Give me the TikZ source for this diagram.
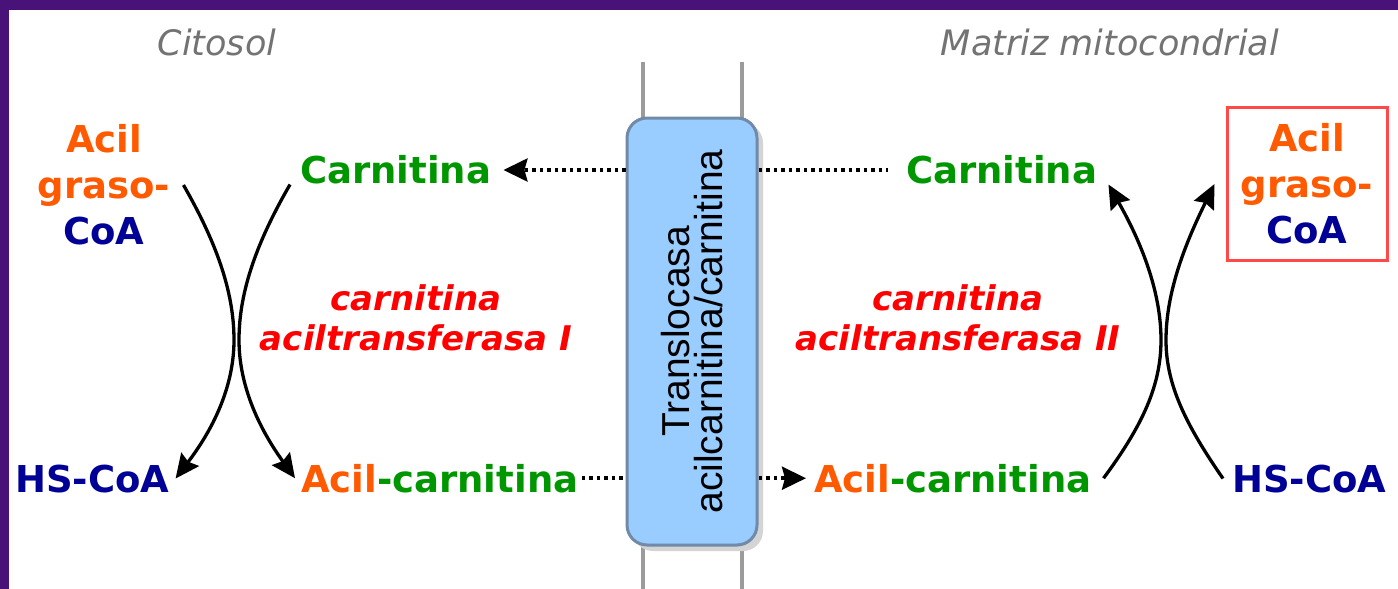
\documentclass[tikz,border=0pt]{standalone}
\usepackage{fontspec}
\usetikzlibrary{arrows.meta}
\newfontfamily\dv{DejaVu Sans}[BoldFont={DejaVu Sans Bold},ItalicFont={DejaVu Sans Oblique},BoldItalicFont={DejaVu Sans Bold Oblique}]
\newfontfamily\lib{Liberation Sans}
\definecolor{acyl}{RGB}{255,90,0}
\definecolor{carn}{RGB}{0,150,0}
\definecolor{coa}{RGB}{0,0,150}
\definecolor{enz}{RGB}{255,0,0}
\definecolor{lbl}{RGB}{115,115,115}
\definecolor{boxfill}{RGB}{153,204,255}
\definecolor{boxline}{RGB}{112,138,168}
\definecolor{shadowc}{RGB}{212,212,212}
\definecolor{memb}{RGB}{155,155,155}
\definecolor{framec}{RGB}{72,18,120}
\definecolor{redbox}{RGB}{255,72,72}
\begin{document}
\begin{tikzpicture}[x=1pt,y=-1pt,
  txt/.style={inner sep=0pt, font=\dv\bfseries\fontsize{37}{46}\selectfont},
  enzyme/.style={inner sep=0pt, text=enz, align=center, font=\dv\bfseries\itshape\fontsize{34}{40}\selectfont},
  regionlbl/.style={inner sep=0pt, text=lbl, font=\dv\itshape\fontsize{35}{40}\selectfont},
  reactarrow/.style={line width=3.3pt, -{Stealth[length=24pt,width=22pt,inset=3pt]}},
  dotline/.style={line width=3.5pt, dash pattern=on 3.5pt off 4pt, black},
  dotarrow/.style={dotline, -{Stealth[length=24pt,width=23pt,inset=3pt]}},
]
\fill[white] (0,0) rectangle (1398,589);
\useasboundingbox (0,0) rectangle (1398,589);
\fill[framec] (0,0) rectangle (9,589);
\fill[framec] (0,0) rectangle (1398,10);

% region labels
\node[regionlbl, anchor=base] (cyt) at (217,55) {Citosol};
\node[regionlbl, anchor=base] (mat) at (1110,55) {Matriz mitocondrial};

% membranes and translocase
\draw[memb, line width=3.5pt] (643,62) -- (643,589);
\draw[memb, line width=3.5pt] (742,62) -- (742,589);
\fill[shadowc, rounded corners=20pt] (633,123) rectangle (763,551);
\node[draw=boxline, fill=boxfill, line width=3pt, rounded corners=20pt,
      minimum width=130pt, minimum height=427pt, inner sep=0pt] (box) at (692,331.5) {};
\node[inner sep=0pt, rotate=90, align=center, font=\lib\fontsize{39}{33}\selectfont]
      (boxlabel) at (box.center) {Translocasa\\acilcarnitina/carnitina};

% left (cytosol) species
\node[txt, align=center] (acoaL) at (104,185)
  {\textcolor{acyl}{Acil}\\\textcolor{acyl}{graso-}\\\textcolor{coa}{CoA}};
\node[txt, anchor=west, text=carn] (carnL) at (300,170) {Carnitina};
\node[txt, anchor=base west, text=coa] (hsL) at (15,492) {HS-CoA};
\node[txt, anchor=base west] (acL) at (301,492) {\textcolor{acyl}{Acil}\textcolor{carn}{-carnitina}};
\node[enzyme, anchor=north] (cat1) at (416,284) {carnitina\\aciltransferasa I};

% right (matrix) species
\node[txt, align=center, draw=redbox, line width=3pt, minimum width=160pt, minimum height=153pt]
  (acoaR) at (1307,184)
  {\textcolor{acyl}{Acil}\\\textcolor{acyl}{graso-}\\\textcolor{coa}{CoA}};
\node[txt, anchor=west, text=carn] (carnR) at (906,170) {Carnitina};
\node[txt, anchor=base west, text=coa] (hsR) at (1232,492) {HS-CoA};
\node[txt, anchor=base west] (acR) at (814,492) {\textcolor{acyl}{Acil}\textcolor{carn}{-carnitina}};
\node[enzyme, anchor=north] (cat2) at (958,284) {carnitina\\aciltransferasa II};

% CAT I reaction
\draw[reactarrow] ([xshift=13pt]acoaL.east) .. controls (215,240) and (234,290) .. (234,340)
  .. controls (234,378) and (220,420) .. ([xshift=6pt]hsL.east);
\draw[reactarrow] ([xshift=-10pt]carnL.south west) .. controls (258,240) and (239,290) .. (239,340)
  .. controls (239,378) and (253,420) .. ([xshift=-6pt]acL.west);

% CAT II reaction
\draw[reactarrow] ([xshift=12pt]acR.east) .. controls (1143,425) and (1161,385) .. (1161,340)
  .. controls (1161,290) and (1140,240) .. ([xshift=11pt]carnR.south east);
\draw[reactarrow] ([xshift=-9pt]hsR.west) .. controls (1186,425) and (1166,385) .. (1166,340)
  .. controls (1166,290) and (1187,240) .. ([xshift=-11pt]acoaR.west);

% transport through translocase
\draw[dotarrow] (box.west |- carnL.west) -- ([xshift=12pt]carnL.east);
\draw[dotline] (box.east |- carnR.west) -- ([xshift=-18pt]carnR.west);
\draw[dotline] ([xshift=3pt]acL.east) -- (box.west |- acL.east);
\draw[dotarrow] (box.east |- acR.west) -- ([xshift=-8pt]acR.west);
\end{tikzpicture}
\end{document}
